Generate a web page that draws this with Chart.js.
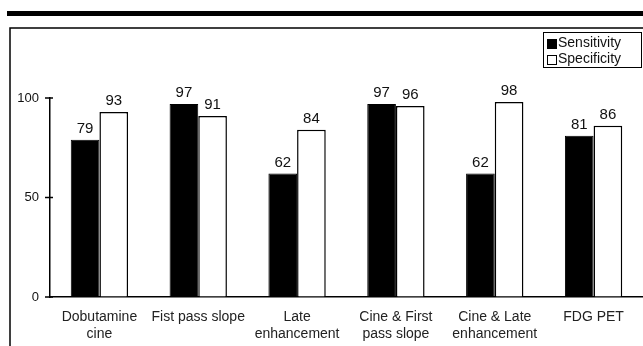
<!DOCTYPE html>
<html>
<head>
<meta charset="utf-8">
<script src="https://cdn.jsdelivr.net/npm/chart.js@4"></script>
<style>
    html, body { margin: 0; padding: 0; background: #fff; }
    #wrap { width: 643px; height: 346px; }
</style>
</head>
<body>
<div id="wrap"><canvas id="myChart" width="643" height="346"></canvas></div>
<script>
// datos
const categories = [
    ['Dobutamine', 'cine'],
    'Fist pass slope',
    ['Late', 'enhancement'],
    ['Cine & First', 'pass slope'],
    ['Cine & Late', 'enhancement'],
    'FDG PET'
];
const sensitivity = [79, 97, 62, 97, 62, 81];
const specificity = [93, 91, 84, 96, 98, 86];
const yTicks = [0, 50, 100];

const FONT = 'Liberation Sans, Arial, Helvetica, sans-serif';

// marco, barra negra superior, leyenda y valores encima de las barras
const decoPlugin = {
    id: 'deco',
    beforeDraw(chart) {
        const ctx = chart.ctx;
        ctx.save();
        ctx.fillStyle = '#000';
        ctx.fillRect(7, 11, 636, 5);
        ctx.strokeStyle = '#000';
        ctx.lineWidth = 1.5;
        ctx.beginPath();
        ctx.moveTo(10, 346);
        ctx.lineTo(10, 28);
        ctx.lineTo(643, 28);
        ctx.stroke();
        ctx.restore();
    },
    afterDatasetsDraw(chart) {
        const ctx = chart.ctx;
        const area = chart.chartArea;
        const yScale = chart.scales.y;
        ctx.save();

        // marcas del eje y que cruzan la linea
        ctx.strokeStyle = '#000';
        ctx.lineWidth = 1.5;
        ctx.beginPath();
        yTicks.forEach(v => {
            const py = yScale.getPixelForValue(v);
            ctx.moveTo(area.left - 5, py);
            ctx.lineTo(area.left + 3, py);
        });
        ctx.moveTo(area.left - 5, area.bottom);
        ctx.lineTo(area.left, area.bottom);
        ctx.stroke();

        ctx.fillStyle = '#111';
        ctx.font = '15px ' + FONT;
        ctx.textAlign = 'center';
        ctx.textBaseline = 'alphabetic';
        chart.data.datasets.forEach((ds, i) => {
            chart.getDatasetMeta(i).data.forEach((bar, j) => {
                ctx.fillText(ds.data[j], bar.x, bar.y - 7);
            });
        });

        // leyenda
        ctx.lineWidth = 1;
        ctx.strokeStyle = '#000';
        ctx.fillStyle = '#fff';
        ctx.fillRect(543, 32, 98, 35);
        ctx.strokeRect(543.5, 32.5, 98, 35);
        ctx.fillStyle = '#000';
        ctx.fillRect(547, 39, 10, 10);
        ctx.strokeRect(547.5, 55.5, 9, 9);
        ctx.fillStyle = '#111';
        ctx.font = '14px ' + FONT;
        ctx.textAlign = 'left';
        ctx.textBaseline = 'middle';
        ctx.fillText(chart.data.datasets[0].label, 558, 43);
        ctx.fillText(chart.data.datasets[1].label, 558, 59);
        ctx.restore();
    }
};

const chartData = {
    labels: categories,
    datasets: [{
        label: 'Sensitivity',
        data: sensitivity,
        backgroundColor: '#000',
        borderColor: '#000',
        borderWidth: 1
    }, {
        label: 'Specificity',
        data: specificity,
        backgroundColor: '#fff',
        borderColor: '#000',
        borderWidth: 1.5
    }]
};

const config = {
    type: 'bar',
    data: chartData,
    plugins: [decoPlugin],
    options: {
        responsive: false,
        animation: false,
        layout: { padding: { top: 98, right: 0, bottom: 0, left: 0 } },
        plugins: {
            legend: { display: false },
            tooltip: { enabled: false }
        },
        datasets: {
            bar: { categoryPercentage: 0.58, barPercentage: 1 }
        },
        scales: {
            x: {
                grid: { display: false, drawTicks: false },
                border: { display: true, color: '#000', width: 1.5 },
                ticks: {
                    color: '#222',
                    font: { family: FONT, size: 14 },
                    padding: 12,
                    maxRotation: 0,
                    autoSkip: false
                },
                afterFit(scale) { scale.height = 49; }
            },
            y: {
                min: 0,
                max: 100,
                afterBuildTicks(scale) {
                    scale.ticks = yTicks.map(v => ({ value: v }));
                },
                grid: { drawOnChartArea: false, drawTicks: false },
                border: { display: true, color: '#000', width: 1.5 },
                ticks: {
                    color: '#111',
                    font: { family: FONT, size: 13 },
                    padding: 11
                },
                afterFit(scale) { scale.width = 50; }
            }
        }
    }
};

new Chart(document.getElementById('myChart'), config);
</script>
</body>
</html>
